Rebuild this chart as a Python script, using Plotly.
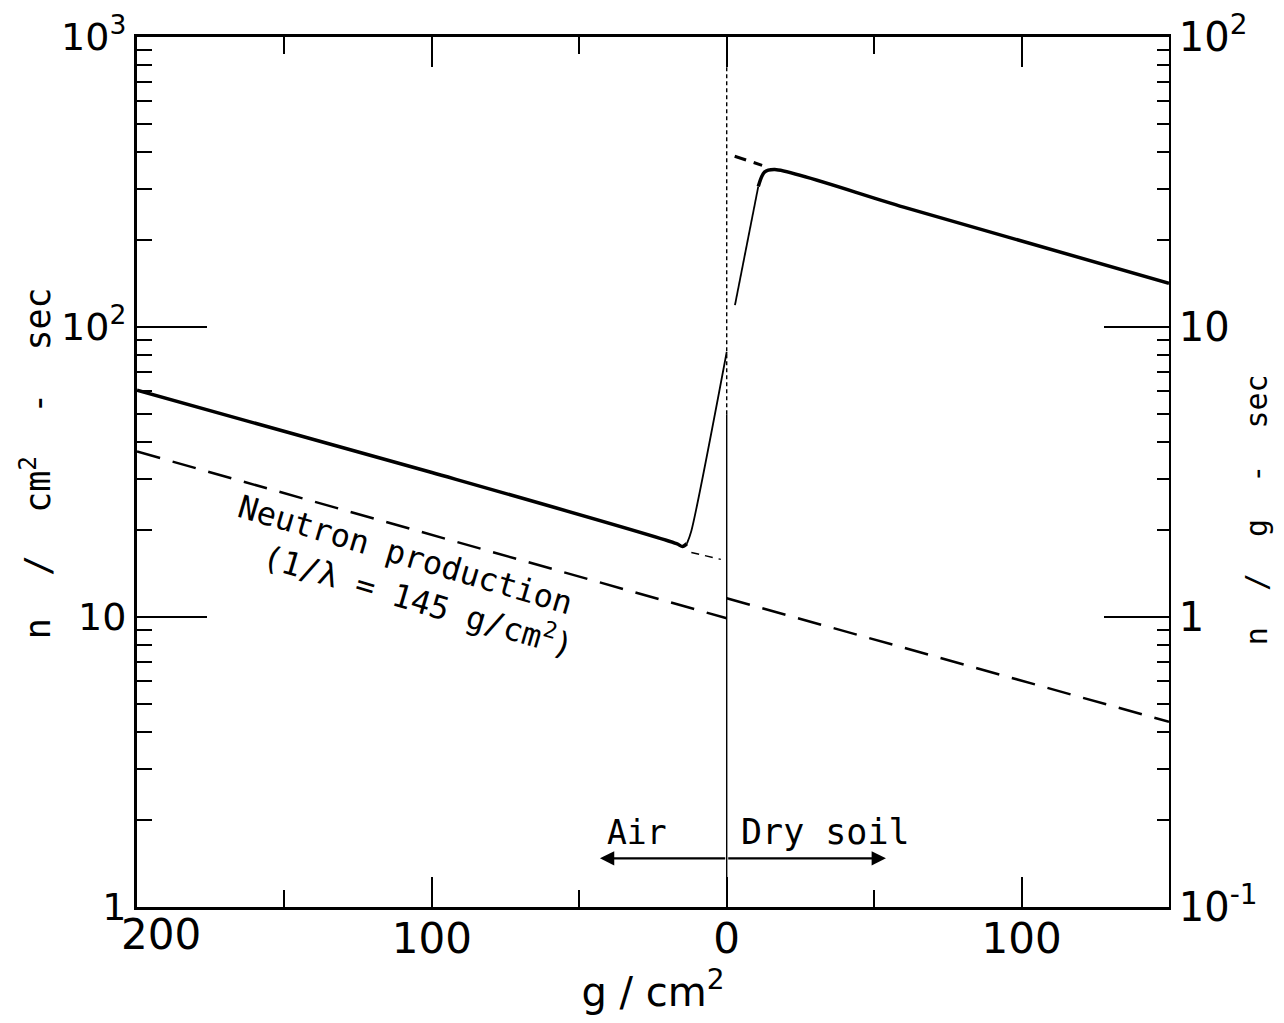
import plotly.graph_objects as go

# ---------------- data ----------------
# x: g/cm^2 ; negative = air side (labelled 200,100 to the left), positive = dry soil
air_flux_g = [-200, -100, -17, -15, -13.5]
air_flux_v = [60.5, 31.5, 17.9, 17.5, 17.9]

air_rise_g = [-13.5, -12, 0]
air_rise_v = [17.9, 19.8, 82]

soil_rise_g = [2.8, 10.7]
soil_rise_v = [119, 305]

soil_flux_g = [10.7, 12.8, 16.3, 60, 150]
soil_flux_v = [305, 342, 349, 259, 141.5]

soil_extrap_g = [2.7, 12]
soil_extrap_v = [388, 361]

air_extrap_g = [-12, -2]
air_extrap_v = [16.7, 15.8]

prod_air_g = [-200, 0]
prod_air_v = [37.2, 9.9]

prod_soil_g = [0, 150]
prod_soil_v = [11.6, 4.35]

interface_g = [0, 0]
interface_low_v = [1, 50]
interface_high_v = [50, 1000]

x_tick_vals = [-200, -100, 0, 100]
x_tick_text = ["200", "100", "0", "100"]
x_minor_vals = [-150, -50, 50]

y_tick_vals = [1, 10, 100, 1000]
y_tick_text = ["1", "10", "10<sup>2</sup>", "10<sup>3</sup>"]
y2_tick_vals = [0.1, 1, 10, 100]
y2_tick_text = ["10<sup>-1</sup>", "1", "10", "10<sup>2</sup>"]

left_title = "n&nbsp;&nbsp;/&nbsp;&nbsp;cm<sup>2</sup>&nbsp;&nbsp;-&nbsp;&nbsp;sec"
right_title = "n&nbsp;&nbsp;/&nbsp;&nbsp;g&nbsp;&nbsp;-&nbsp;&nbsp;sec"
bottom_title = "g / cm<sup>2</sup>"

NUM_FONT = "DejaVu Sans"
TXT_FONT = "DejaVu Sans Mono"

fig = go.Figure()

def line(x, y, width, dash="solid", shape="linear", yaxis="y"):
    fig.add_trace(go.Scatter(
        x=x, y=y, mode="lines", yaxis=yaxis,
        line=dict(color="black", width=width, dash=dash, shape=shape, smoothing=0.8),
        hoverinfo="skip", showlegend=False))

line(interface_g, interface_low_v, 1.4)
line(interface_g, interface_high_v, 1.4, dash="4px,3px")
line(air_flux_g, air_flux_v, 3.5, shape="spline")
line(air_rise_g, air_rise_v, 1.8, shape="spline")
line(soil_rise_g, soil_rise_v, 1.8)
line(soil_flux_g, soil_flux_v, 3.5, shape="spline")
line(soil_extrap_g, soil_extrap_v, 3, dash="12px,8px")
line(air_extrap_g, air_extrap_v, 1.5, dash="8px,6px")
line(prod_air_g, prod_air_v, 2.5, dash="24px,13px")
line(prod_soil_g, prod_soil_v, 2.5, dash="24px,13px")
# empty trace so the right-hand axis is drawn
fig.add_trace(go.Scatter(x=[None], y=[None], yaxis="y2", mode="lines",
                         showlegend=False, hoverinfo="skip"))

tick_common = dict(ticks="inside", tickcolor="black", tickwidth=2,
                   showgrid=False, zeroline=False, automargin=False,
                   ticklabeloverflow="allow")

# first x label ("200") is drawn offset to the right, as in the reference
x_text_shown = [""] + x_tick_text[1:]

fig.update_layout(
    width=1268, height=1007,
    margin=dict(l=129, r=107, t=29, b=108),
    plot_bgcolor="white", paper_bgcolor="white",
    showlegend=False,
    xaxis=dict(
        range=[-200, 150], tickmode="array", tickvals=x_tick_vals, ticktext=x_text_shown,
        ticklen=30, showline=True, linewidth=3, linecolor="black", mirror="ticks",
        minor=dict(tickvals=x_minor_vals, ticks="inside", ticklen=17,
                   tickwidth=2, tickcolor="black", showgrid=False),
        tickfont=dict(family=NUM_FONT, size=42, color="black"),
        ticklabelstandoff=-7,
        title=dict(text=bottom_title, standoff=4,
                   font=dict(family=NUM_FONT, size=40, color="black")),
        **tick_common),
    yaxis=dict(
        type="log", range=[0, 3], tickmode="array", tickvals=y_tick_vals,
        ticktext=y_tick_text, ticklen=70, showline=True, linewidth=3,
        linecolor="black",
        minor=dict(tickvals=[m * 10 ** e for e in range(3) for m in range(2, 10)],
                   ticks="inside", ticklen=15, tickwidth=2, tickcolor="black",
                   showgrid=False),
        tickfont=dict(family=NUM_FONT, size=38, color="black"),
        **tick_common),
    yaxis2=dict(
        type="log", range=[-1, 2], overlaying="y", side="right",
        tickmode="array", tickvals=y2_tick_vals, ticktext=y2_tick_text,
        ticklen=65, showline=True, linewidth=1.5, linecolor="black",
        minor=dict(tickvals=[m * 10 ** e for e in range(-1, 2) for m in range(2, 10)],
                   ticks="inside", ticklen=12, tickwidth=2, tickcolor="black",
                   showgrid=False),
        tickfont=dict(family=NUM_FONT, size=40, color="black"),
        **tick_common),
)

# axis titles for the two log axes, placed as in the reference
fig.add_annotation(x=0, y=0.51, xref="paper", yref="paper", text=left_title,
                   showarrow=False, textangle=-90, xanchor="center", yanchor="middle",
                   xshift=-101, font=dict(family=TXT_FONT, size=35, color="black"))
fig.add_annotation(x=1, y=0.456, xref="paper", yref="paper", text=right_title,
                   showarrow=False, textangle=-90, xanchor="center", yanchor="middle",
                   xshift=87, font=dict(family=TXT_FONT, size=30, color="black"))

fig.add_annotation(x=x_tick_vals[0], y=0, xref="x", yref="paper", text=x_tick_text[0],
                   showarrow=False, xanchor="center", yanchor="top",
                   xshift=24, yshift=-1,
                   font=dict(family=NUM_FONT, size=42, color="black"))

arrow_y = 0.168  # log10 units on the log axis
fig.add_annotation(x=-43, y=arrow_y, ax=0, ay=arrow_y, xref="x", yref="y",
                   axref="x", ayref="y", text="", showarrow=True,
                   arrowhead=2, arrowsize=1.3, arrowwidth=2.2, arrowcolor="black")
fig.add_annotation(x=54, y=arrow_y, ax=0, ay=arrow_y, xref="x", yref="y",
                   axref="x", ayref="y", text="", showarrow=True,
                   arrowhead=2, arrowsize=1.3, arrowwidth=2.2, arrowcolor="black")
fig.add_annotation(x=-30.4, y=0.258, xref="x", yref="y", text="Air", showarrow=False,
                   font=dict(family=TXT_FONT, size=33, color="black"))
fig.add_annotation(x=33.5, y=0.258, xref="x", yref="y", text="Dry soil", showarrow=False,
                   font=dict(family=TXT_FONT, size=35, color="black"))

fig.add_annotation(x=-108.8, y=1.2136, xref="x", yref="y", text="Neutron production",
                   showarrow=False, textangle=16.5,
                   font=dict(family=TXT_FONT, size=32, color="black"))
fig.add_annotation(x=-104.4, y=1.062, xref="x", yref="y",
                   text="(1/λ = 145 g/cm<sup>2</sup>)",
                   showarrow=False, textangle=16.5,
                   font=dict(family=TXT_FONT, size=32, color="black"))

fig.write_html("out.html")
